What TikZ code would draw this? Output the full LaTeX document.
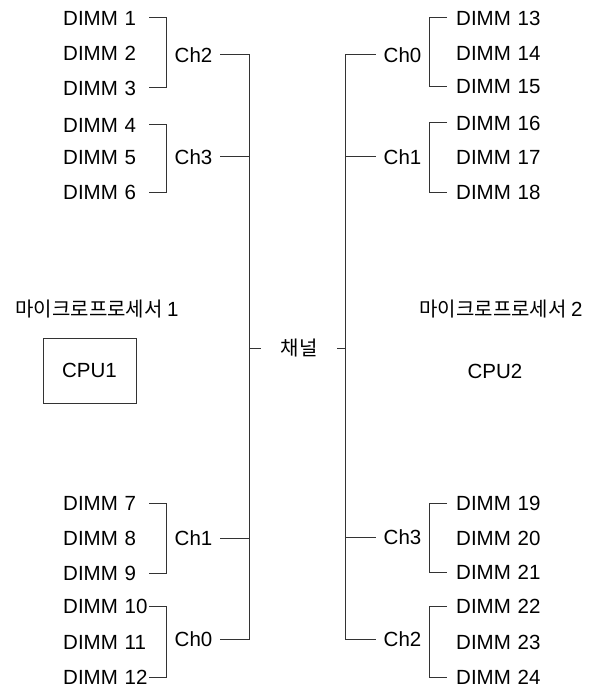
\documentclass[tikz,border=0pt]{standalone}
\usepackage{fontspec}
\setmainfont{Liberation Sans}
\newfontfamily\kofont{Noto Sans CJK KR}
\begin{document}
\begin{tikzpicture}[x=1pt,y=-1pt,
  every node/.style={font=\fontsize{20.5}{24}\selectfont},
  dimmL/.style={anchor=west, inner sep=0pt, text width=86pt, align=left},
  dimmR/.style={anchor=west, inner ysep=0pt, inner xsep=9pt, text width=90pt, align=left},
  chan/.style={inner sep=0pt, minimum width=53pt},
  wire/.style={draw=black!80, line width=1pt},
  kor/.style={font=\kofont\fontsize{20}{24}\selectfont, inner sep=0pt}]
\useasboundingbox (0,0) rectangle (599,687);
% left DIMMs
\node[dimmL] (d1) at (63,18) {DIMM 1};
\node[dimmL] (d2) at (63,53) {DIMM 2};
\node[dimmL] (d3) at (63,88) {DIMM 3};
\node[dimmL] (d4) at (63,125) {DIMM 4};
\node[dimmL] (d5) at (63,158) {DIMM 5};
\node[dimmL] (d6) at (63,192) {DIMM 6};
\node[dimmL] (d7) at (63,503) {DIMM 7};
\node[dimmL] (d8) at (63,538) {DIMM 8};
\node[dimmL] (d9) at (63,573) {DIMM 9};
\node[dimmL] (d10) at (63,606) {DIMM 10};
\node[dimmL] (d11) at (63,642) {DIMM 11};
\node[dimmL] (d12) at (63,677) {DIMM 12};
% left channels
\node[chan] (lc2) at (193.5,55) {Ch2};
\node[chan] (lc3) at (193.5,157) {Ch3};
\node[chan] (lc1) at (193.5,538) {Ch1};
\node[chan] (lc0) at (193.5,639) {Ch0};
% right DIMMs
\node[dimmR] (d13) at (447,18) {DIMM 13};
\node[dimmR] (d14) at (447,53) {DIMM 14};
\node[dimmR] (d15) at (447,87) {DIMM 15};
\node[dimmR] (d16) at (447,123) {DIMM 16};
\node[dimmR] (d17) at (447,157) {DIMM 17};
\node[dimmR] (d18) at (447,192) {DIMM 18};
\node[dimmR] (d19) at (447,503) {DIMM 19};
\node[dimmR] (d20) at (447,538) {DIMM 20};
\node[dimmR] (d21) at (447,572) {DIMM 21};
\node[dimmR] (d22) at (447,606) {DIMM 22};
\node[dimmR] (d23) at (447,642) {DIMM 23};
\node[dimmR] (d24) at (447,677) {DIMM 24};
% right channels
\node[chan] (rc0) at (402.5,55) {Ch0};
\node[chan] (rc1) at (402.5,157) {Ch1};
\node[chan] (rc3) at (402.5,537) {Ch3};
\node[chan] (rc2) at (402.5,639) {Ch2};
% spines
\coordinate (Ltop) at (249,55);
\coordinate (Lbot) at (249,639);
\coordinate (Rtop) at (345,55);
\coordinate (Rbot) at (345,639);
% processors
\node[kor] (mp1) at (97,309) {마이크로프로세서 \fontspec{Liberation Sans}\fontsize{20.5}{24}\selectfont 1};
\node[kor] (mp2) at (501,309) {마이크로프로세서 \fontspec{Liberation Sans}\fontsize{20.5}{24}\selectfont 2};
\node[draw=black!80, line width=1pt, minimum width=93pt, minimum height=65pt, inner sep=0pt] (cpu1) at (89.5,370.5) {CPU1};
\node (cpu2) at (495,371) {CPU2};
\node[kor, minimum width=76pt] (ch) at (299,348) {채널};
% brackets
\draw[wire] (d1.east) -| (lc2.west) |- (d3.east);
\draw[wire] (d4.east) -| (lc3.west) |- (d6.east);
\draw[wire] (d7.east) -| (lc1.west) |- (d9.east);
\draw[wire] (d10.east) -| (lc0.west) |- (d12.east);
\draw[wire] (d13.west) -| (rc0.east) |- (d15.west);
\draw[wire] (d16.west) -| (rc1.east) |- (d18.west);
\draw[wire] (d19.west) -| (rc3.east) |- (d21.west);
\draw[wire] (d22.west) -| (rc2.east) |- (d24.west);
% channel to spine
\draw[wire] (lc2.east) -- (Ltop) -- (Lbot) -- (lc0.east);
\draw[wire] (lc3.east) -- (lc3.east -| Ltop);
\draw[wire] (lc1.east) -- (lc1.east -| Ltop);
\draw[wire] (rc0.west) -- (Rtop) -- (Rbot) -- (rc2.west);
\draw[wire] (rc1.west) -- (rc1.west -| Rtop);
\draw[wire] (rc3.west) -- (rc3.west -| Rtop);
\draw[wire] (ch.west) -- (ch.west -| Ltop);
\draw[wire] (ch.east) -- (ch.east -| Rtop);
\end{tikzpicture}
\end{document}
